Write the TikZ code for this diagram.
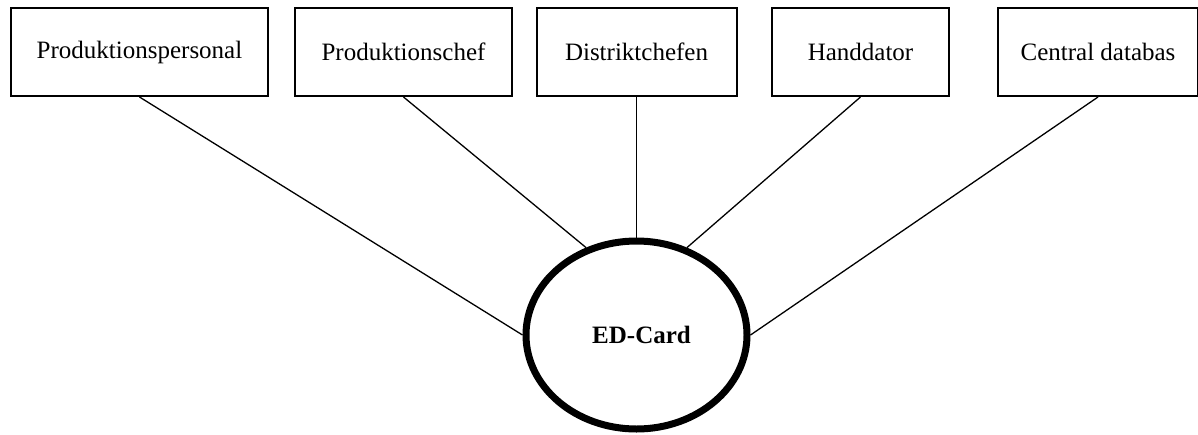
\documentclass[tikz,border=0pt]{standalone}
\usepackage{fontspec}
\setmainfont{Liberation Serif}
\usetikzlibrary{shapes.geometric}
\begin{document}
\begin{tikzpicture}[x=1pt,y=-1pt,
  actor/.style={draw, line width=2pt, rectangle, minimum height=88pt, inner sep=0pt,
    font=\fontsize{25}{30}\selectfont},
  hub/.style={draw, line width=7pt, ellipse, inner sep=0pt, minimum width=221pt,
    minimum height=188pt, font=\fontsize{25}{30}\selectfont\bfseries},
  link/.style={line width=1.3pt}]
  \useasboundingbox (0,0) rectangle (1198,434);

  % stakeholder boxes along the top
  \node[actor, minimum width=257pt] (pp) at (139.5,52) {Produktionspersonal};
  \node[actor, minimum width=217pt] (pc) at (403.5,52) {Produktionschef};
  \node[actor, minimum width=200pt] (dc) at (636.5,52) {Distriktchefen};
  \node[actor, minimum width=177pt] (hd) at (860.5,52) {Handdator};
  \node[actor, minimum width=200pt] (cd) at (1098,52) {Central databas};

  % central system
  \node[hub] (ed) at (636.5,335) {\hspace{10pt}ED-Card};

  % connections
  \draw[link] (pp.south) -- (ed.west);
  \draw[link] (pc.south) -- (ed.120);
  \draw[link] (dc.south) -- (ed.north);
  \draw[link] (hd.south) -- (ed.60);
  \draw[link] (cd.south) -- (ed.east);
\end{tikzpicture}
\end{document}
